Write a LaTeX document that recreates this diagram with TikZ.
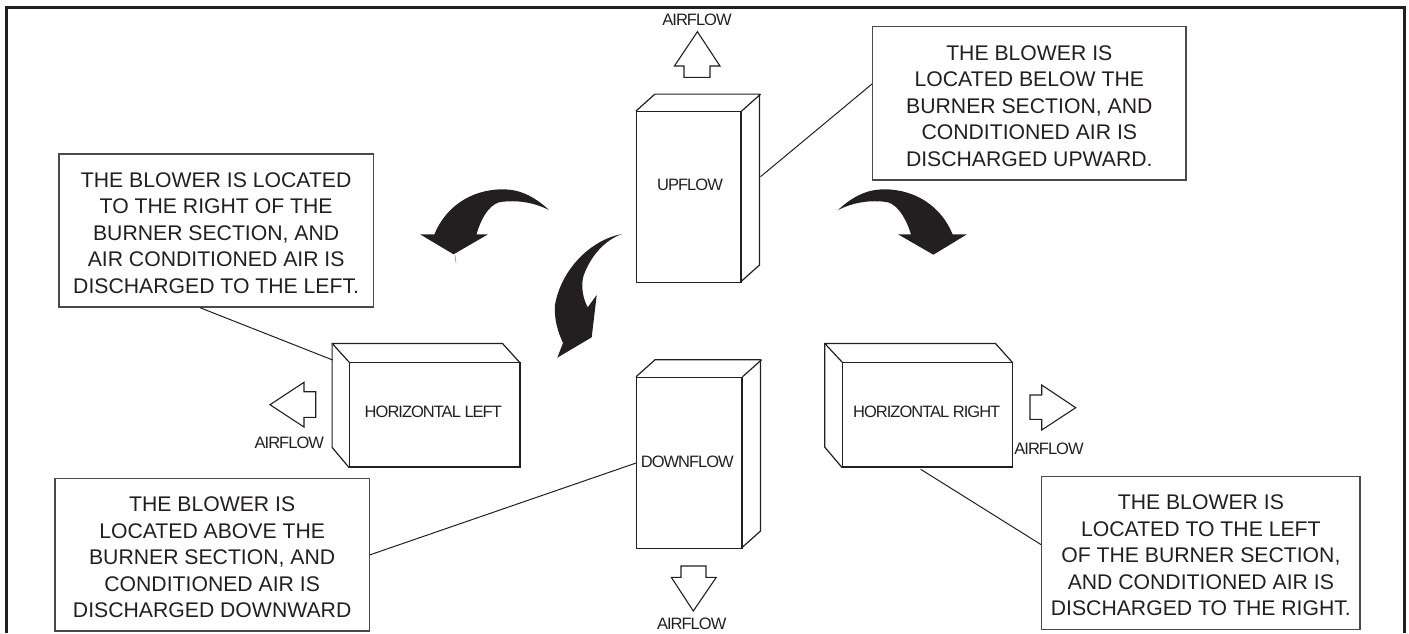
\documentclass[tikz,border=0pt]{standalone}
\usepackage{fontspec}
\setmainfont{Liberation Sans}
\newfontfamily\tightfont[LetterSpace=-6]{Liberation Sans}
\definecolor{inkblack}{HTML}{231F20}
\definecolor{notegray}{HTML}{4A4A4A}
\newcommand{\firstline}{\rule{0pt}{20pt}}
\tikzset{
notebox/.style={draw=notegray, line width=1.2pt, text=inkblack, align=center, inner sep=0pt, font=\fontsize{21.2}{26.5}\selectfont},
unitface/.style={draw=inkblack, line width=1.2pt, inner sep=0pt},
unitline/.style={draw=inkblack, line width=1.2pt, line join=round},
smalltext/.style={text=inkblack, inner sep=0pt, font=\tightfont\fontsize{16.5}{18}\selectfont},
leader/.style={draw=inkblack, line width=1pt},
airarrow/.style={draw=inkblack, line width=1.1pt, line join=miter},
bentarrow/.style={fill=inkblack}
}
\begin{document}
\begin{tikzpicture}[x=1pt, y=-1pt]
\useasboundingbox(0,0)rectangle(1409,633);
\draw[inkblack, line width=3pt](6,633)--(6,7)--(1404,7)--(1404,633);

\node[unitface, minimum width=104.5pt, minimum height=171pt](upfront) at (688.75,197.2){};
\draw[unitline](upfront.north west)--++(19,-17)--++(104.5,0)--++(0,171)--++(-19,17);
\draw[unitline](upfront.north east)--++(19,-17);
\node[smalltext](uplabel) at (690,185){UPFLOW};
\node[smalltext](upair) at (697,20){AIRFLOW};
\draw[airarrow](697.4,31.7)--(720,66)--(710,66)--(710,77.3)--(684,77.3)--(684,66)--(674.4,66)--cycle;

\node[unitface, minimum width=105.3pt, minimum height=171.4pt](downfront) at (689.35,463){};
\draw[unitline](downfront.north west)--++(19,-17)--++(105.3,0)--++(0,171.4)--++(-19,17);
\draw[unitline](downfront.north east)--++(19,-17);
\node[smalltext](downlabel) at (687.3,462.3){DOWNFLOW};
\node[smalltext](downair) at (691.7,624.3){AIRFLOW};
\draw[airarrow](693.3,611)--(716.3,577.3)--(706,577.3)--(706,566)--(681,566)--(681,577.3)--(671.3,577.3)--cycle;

\node[unitface, minimum width=170.3pt, minimum height=104.3pt](leftfront) at (434.85,414.85){};
\draw[unitline](leftfront.north west)--++(-17,-18.7)--++(170.3,0)--++(17,18.7);
\draw[unitline](leftfront.north west)++(-17,-18.7)--++(0,104)--(leftfront.south west);
\node[smalltext](leftlabel) at (433.3,411.7){HORIZONTAL LEFT};
\node[smalltext](leftair) at (289.3,443.3){AIRFLOW};
\draw[airarrow](270,404.7)--(304,382.3)--(304,391.7)--(315.7,391.7)--(315.7,417.3)--(304,417.3)--(304,427)--cycle;

\node[unitface, minimum width=170pt, minimum height=104.3pt](rightfront) at (927.7,414.85){};
\draw[unitline](rightfront.north west)--++(-17.4,-18.7)--++(170.7,0)--++(16.7,18.7);
\draw[unitline](rightfront.north west)++(-17.4,-18.7)--++(0,103.7)--(rightfront.south west);
\node[smalltext](rightlabel) at (926.7,411.7){HORIZONTAL RIGHT};
\node[smalltext](rightair) at (1049,449){AIRFLOW};
\draw[airarrow](1075.7,407.7)--(1041.7,385)--(1041.7,395)--(1030,395)--(1030,419.3)--(1041.7,419.3)--(1041.7,430)--cycle;

\node[notebox, minimum width=313.4pt, minimum height=153.3pt](upnote) at (1029.3,103.3){\firstline THE BLOWER IS\\LOCATED BELOW THE\\BURNER SECTION, AND\\CONDITIONED AIR IS\\DISCHARGED UPWARD.};
\node[notebox, minimum width=314.3pt, minimum height=153pt](leftnote) at (216.15,230.5){\firstline THE BLOWER IS LOCATED\\TO THE RIGHT OF THE\\BURNER SECTION, AND\\AIR CONDITIONED AIR IS\\DISCHARGED TO THE LEFT.};
\node[notebox, minimum width=314.3pt, minimum height=152.3pt](downnote) at (212.15,554.85){\firstline THE BLOWER IS\\LOCATED ABOVE THE\\BURNER SECTION, AND\\CONDITIONED AIR IS\\DISCHARGED DOWNWARD};
\node[notebox, minimum width=318.3pt, minimum height=152.6pt](rightnote) at (1200.85,553){\firstline THE BLOWER IS\\LOCATED TO THE LEFT\\OF THE BURNER SECTION,\\AND CONDITIONED AIR IS\\DISCHARGED TO THE RIGHT.};

\coordinate(uptouch) at (760.5,176.7);
\coordinate(lefttouch) at (332.7,360);
\coordinate(righttouch) at (920.7,469.3);
\draw[leader](upnote.173.7)--(uptouch);
\draw[leader](leftnote.258.1)--(lefttouch);
\draw[leader](downnote.-0.9)--(downfront.west);
\draw[leader](rightnote.177.7)--(righttouch);

\fill[bentarrow](549,210).. controls (533,195) and (518,189.3) .. (503,189.3).. controls (470,189.3) and (445,208) .. (434.4,234.3)--(420,234.3)--(453.6,254.3)--(488,234.3)--(476.5,234.3).. controls (482,215) and (492,201.7) .. (503,201.7).. controls (520,200) and (535,203) .. (549,210)--cycle;
\draw[gray, line width=.5pt](455,255)--(456,263);
\fill[bentarrow](838,210).. controls (854,195) and (869,189.3) .. (884,189.3).. controls (917,189.3) and (942,208) .. (952.6,234.3)--(967,234.3)--(933.4,254.7)--(898,234.3)--(911,234.3).. controls (905,215) and (895,201.7) .. (884,201.7).. controls (867,200) and (852,203) .. (838,210)--cycle;
\fill[bentarrow](622,234).. controls (590,240) and (561,270) .. (555,305).. controls (554,320) and (558,332) .. (563,343)--(557.3,357.7)--(591.7,337.3)--(596.7,295)--(587.7,307.3).. controls (581,295) and (581,280) .. (585,272).. controls (592,255) and (605,240) .. (622,234)--cycle;
\end{tikzpicture}
\end{document}
